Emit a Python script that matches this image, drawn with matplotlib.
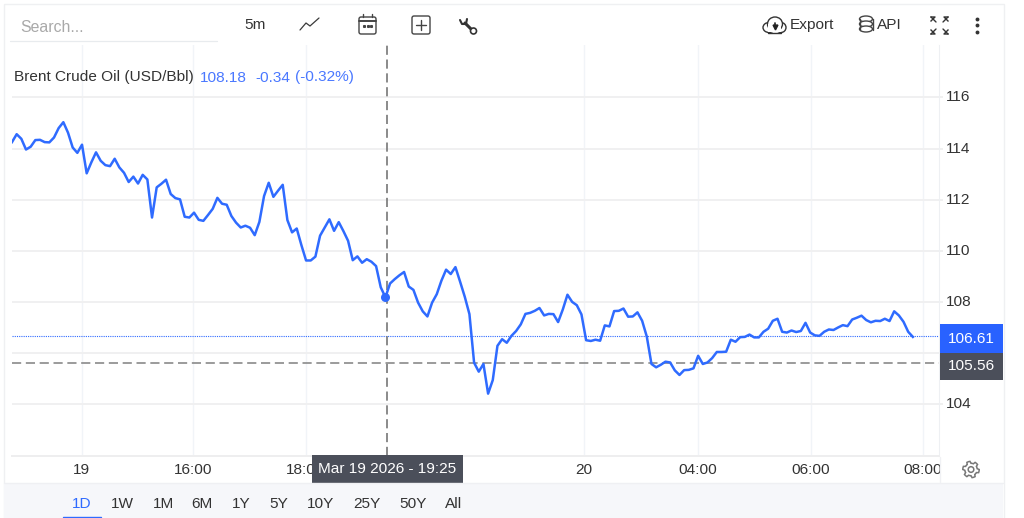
import numpy as np
import matplotlib
matplotlib.use('Agg')
import matplotlib.pyplot as plt
from matplotlib.patches import Rectangle, Circle, FancyBboxPatch, Polygon, Ellipse
from matplotlib.transforms import ScaledTranslation

plt.rcParams['font.family'] = ['Liberation Sans', 'DejaVu Sans']

# 5 minute closes
prices = [
    114.25, 114.56, 114.38, 113.96, 114.07, 114.33, 114.34, 114.25, 114.24, 114.43,
    114.80, 115.03, 114.62, 114.04, 113.83, 114.15, 113.03, 113.46, 113.85, 113.52,
    113.35, 113.31, 113.60, 113.26, 113.05, 112.69, 112.90, 112.63, 112.97, 112.79,
    111.30, 112.48, 112.62, 112.78, 112.22, 112.06, 112.01, 111.33, 111.30, 111.49,
    111.21, 111.17, 111.40, 111.64, 112.07, 111.84, 111.80, 111.36, 111.10, 110.91,
    110.98, 110.90, 110.61, 111.13, 112.14, 112.66, 112.11, 112.35, 112.58, 111.20,
    110.72, 110.87, 110.22, 109.62, 109.62, 109.77, 110.59, 110.91, 111.23, 110.78,
    111.12, 110.77, 110.39, 109.63, 109.78, 109.53, 109.67, 109.57, 109.40, 108.57,
    108.18, 108.72, 108.89, 109.04, 109.17, 108.60, 108.47, 107.97, 107.63, 107.43,
    107.97, 108.30, 108.83, 109.26, 109.09, 109.36, 108.79, 108.20, 107.52, 105.62,
    105.27, 105.57, 104.41, 104.94, 106.28, 106.54, 106.40, 106.67, 106.86, 107.12,
    107.53, 107.57, 107.65, 107.76, 107.47, 107.53, 107.52, 107.21, 107.70, 108.28,
    108.00, 107.87, 107.51, 106.50, 106.47, 106.52, 106.48, 107.08, 107.04, 107.64,
    107.65, 107.74, 107.42, 107.43, 107.59, 107.26, 106.64, 105.57, 105.44, 105.54,
    105.66, 105.63, 105.32, 105.14, 105.33, 105.34, 105.40, 105.89, 105.57, 105.63,
    105.80, 106.04, 106.04, 106.05, 106.52, 106.44, 106.62, 106.63, 106.72, 106.61,
    106.61, 106.83, 106.95, 107.26, 107.34, 106.83, 106.80, 106.88, 106.82, 106.86,
    107.18, 106.80, 106.69, 106.67, 106.83, 106.92, 106.90, 107.00, 107.09, 107.05,
    107.31, 107.38, 107.46, 107.29, 107.20, 107.26, 107.25, 107.34, 107.25, 107.63,
    107.47, 107.22, 106.83, 106.63,
]
bars = list(range(len(prices)))

y_ticks = [104, 106, 108, 110, 112, 114, 116]
y_labels = ['104', '', '108', '110', '112', '114', '116']
x_ticks = [14.9, 38.7, 62.9, 122.5, 147.0, 171.1, 195.2]
x_labels = ['19', '16:00', '18:00', '20', '04:00', '06:00', '08:00']
ranges = ['1D', '1W', '1M', '6M', '1Y', '5Y', '10Y', '25Y', '50Y', 'All']
range_x = [82, 122, 163, 202, 241, 279, 321, 367, 413, 454]

cursor_bar = 80
cursor_x = 80.4
cursor_price = 105.61
last_level = 106.65

BLUE = '#2f6bff'
DARK = '#4b4f5a'
TXT = '#333333'
FS = 11.1
W, H = 1024, 518

fig = plt.figure(figsize=(W / 100, H / 100), dpi=100)
ax = fig.add_axes([12 / W, 1 - 456 / H, 927 / W, 411 / H])
ax.plot(bars, prices, color=BLUE, lw=1.8, zorder=4, solid_joinstyle='round')
ax.plot(cursor_bar, prices[cursor_bar], 'o', color=BLUE, ms=6.5, zorder=5, mew=0)
ax.axhline(last_level, color=BLUE, lw=0.8, ls=(0, (1, 1)), zorder=3)
ax.axhline(cursor_price, color='#8a8a8a', lw=1.2, ls=(0, (5.5, 2.8)), zorder=3)
ax.axvline(cursor_x, color='#777777', lw=1.2, ls=(0, (5.5, 2.8)), zorder=3)

ax.set_xlim(0, 198.6)
ax.set_ylim(101.97, 118.05)
ax.set_xticks(x_ticks)
ax.set_xticklabels(x_labels)
ax.set_yticks(y_ticks)
ax.set_yticklabels(y_labels)
ax.yaxis.tick_right()
ax.tick_params(axis='x', length=0, pad=5, labelsize=FS, labelcolor=TXT)
ax.tick_params(axis='y', length=2.6, width=1.2, color='#eeeeee', pad=2, labelsize=FS, labelcolor=TXT)
# labels sit a bit above their grid lines
up = ScaledTranslation(0, 1.5 / 100, fig.dpi_scale_trans)
for lab in ax.get_yticklabels():
    lab.set_transform(lab.get_transform() + up)
ax.grid(axis='y', color='#f0f0f1', lw=1.4, zorder=1)
ax.grid(axis='x', color='#f1f4f8', lw=1.0, zorder=1)
ax.set_axisbelow(True)
for s in ['top', 'left']:
    ax.spines[s].set_visible(False)
ax.spines['right'].set_color('#eef0f3')
ax.spines['bottom'].set_color('#eeeeef')
ax.spines['bottom'].set_linewidth(1.4)

# everything around the chart is drawn in pixel coordinates
ui = fig.add_axes([0, 0, 1, 1], zorder=10)
ui.set_xlim(0, W)
ui.set_ylim(H, 0)
ui.axis('off')
ui.patch.set_alpha(0)


def txt(x, y, s, color=TXT, size=FS, ha='left'):
    ui.text(x, y + 1, s, color=color, fontsize=size, ha=ha, va='center')


def seg(xs, ys, color='#3a3a3a', lw=1.0):
    ui.plot(xs, ys, color=color, lw=lw, solid_capstyle='round')


# frame + footer
ui.add_patch(Rectangle((3.5, 4), 1000, 520, fc='none', ec='#eff0f2', lw=1))
ui.add_patch(Rectangle((4, 483), 999, 36, fc='#f6f7fa', ec='none'))
seg([4, 1003], [482.5, 482.5], '#eff0f3', 1)
ui.add_patch(Rectangle((939.6, 457), 63, 25, fc='white', ec='none'))
seg([939.5, 939.5], [457, 482], '#f0f1f4', 1)

# toolbar
txt(20, 27, 'Search...', '#a9a9a9', 11.4)
seg([10, 217], [41, 41], '#e8ebee', 0.9)
txt(255, 24, '5m', TXT, FS, 'center')
seg([300, 306, 310, 319], [30, 23, 26, 18], '#3a3a3a', 0.9)
ui.add_patch(FancyBboxPatch((359, 17), 17, 17, boxstyle='round,pad=0,rounding_size=2', fc='none', ec='#444444', lw=1))
seg([359, 376], [20.5, 20.5], '#444444', 1.4)
seg([363, 363], [14, 17], '#444444', 1)
seg([372, 372], [14, 17], '#444444', 1)
ui.plot([364, 367.5, 371], [26, 26, 26], ls='none', marker='s', ms=1.2, color='#444444')
ui.add_patch(FancyBboxPatch((412, 16), 18, 18, boxstyle='round,pad=0,rounding_size=2', fc='none', ec='#444444', lw=1))
seg([416, 426], [25, 25], '#444444', 1)
seg([421, 421], [20, 30], '#444444', 1)
# wrench
seg([465, 472], [23, 30], '#333333', 2.2)
seg([460, 462, 466, 467], [20, 24, 24, 19], '#333333', 1.5)
ui.add_patch(Circle((473.5, 31), 3, fc='white', ec='#333333', lw=1.2, zorder=3))

# cloud
ui.add_patch(Ellipse((769, 27.5), 12, 10, fc='white', ec='#333333', lw=1))
ui.add_patch(Ellipse((781, 27.5), 10, 10, fc='white', ec='#333333', lw=1))
ui.add_patch(Ellipse((775, 24), 15, 14, fc='white', ec='#333333', lw=1))
ui.add_patch(Rectangle((768, 24), 13, 8, fc='white', ec='none', zorder=3))
seg([768, 781], [32.5, 32.5], '#333333', 1)
ui.plot(775, 26.5, marker='v', ms=3.5, color='#222222', zorder=4)
seg([775, 775], [22.5, 26], '#222222', 1.2)
ui.lines[-1].set_zorder(4)
txt(790, 24, 'Export')
for yy in [19, 24, 29]:
    ui.add_patch(Ellipse((866, yy), 13, 6, fc='white', ec='#444444', lw=1))
seg([859.5, 859.5], [19, 30], '#444444', 1)
seg([872.5, 872.5], [19, 30], '#444444', 1)
txt(877, 24, 'API')
for sx, sy, dx, dy in [(931, 17, 1, 1), (948, 17, -1, 1), (931, 34, 1, -1), (948, 34, -1, -1)]:
    seg([sx, sx + 5 * dx], [sy, sy + 5 * dy], '#333333', 1)
    ui.plot([sx, sx + 4 * dx, sx], [sy, sy, sy + 4 * dy], color='#333333', lw=1)
ui.plot([977, 977, 977], [19, 25, 32], ls='none', marker='o', ms=2.8, color='#333333', mew=0)

# legend line
txt(14, 76.5, 'Brent Crude Oil (USD/Bbl)', TXT)
txt(200, 76.5, '108.18', '#4a78ff')
txt(255, 76.5, '-0.34', '#4a78ff')
txt(295, 76.5, '(-0.32%)', '#4a78ff')

# price flags
ui.add_patch(Rectangle((940, 324), 63, 29, fc='#2962ff', ec='none'))
txt(971.5, 338, '106.61', 'white', FS, 'center')
ui.add_patch(Rectangle((940, 353), 63, 27, fc=DARK, ec='none'))
txt(971.5, 365.5, '105.56', 'white', FS, 'center')

# date flag
ui.add_patch(Rectangle((311.7, 454.5), 151, 28.5, fc=DARK, ec='none'))
txt(387.5, 468, 'Mar 19 2026 - 19:25', 'white', FS, 'center')

# gear
ang = np.linspace(0, 2 * np.pi, 49)[:-1]
rad = np.where((np.arange(48) % 8) < 4, 8.2, 6.2)
ui.add_patch(Polygon(np.c_[971 + rad * np.cos(ang), 469.5 + rad * np.sin(ang)], fc='none', ec='#777777', lw=1.1))
ui.add_patch(Circle((971, 469.5), 2.8, fc='none', ec='#777777', lw=1.1))

# range selector
for rx, r in zip(range_x, ranges):
    txt(rx, 502.5, r, '#2f6bff' if r == '1D' else TXT, FS, 'center')
seg([63, 101], [517, 517], '#2f6bff', 1)

fig.savefig('out.png', dpi=100)
